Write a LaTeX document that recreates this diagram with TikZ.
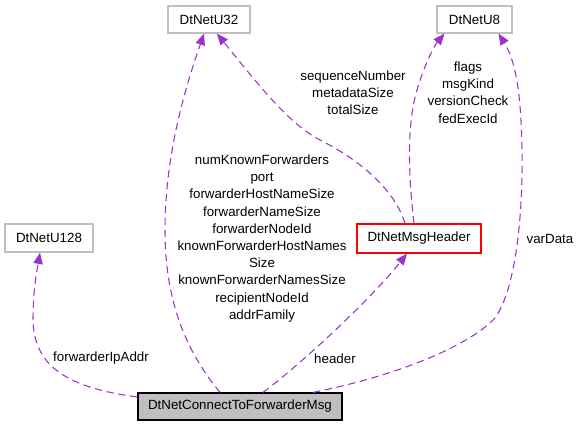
\documentclass[tikz,border=0pt]{standalone}
\usepackage{fontspec}
\setmainfont{Liberation Sans}
\usetikzlibrary{arrows.meta,calc}
\definecolor{edgepurple}{HTML}{9A32CD}
\definecolor{boxgray}{HTML}{BFBFBF}
\tikzset{
  cls/.style={draw=boxgray, line width=0.9pt, fill=white, inner sep=0pt, font=\fontsize{10pt}{12pt}\selectfont},
  mainbox/.style={cls, draw=black, fill=boxgray},
  hdrbox/.style={cls, draw=red},
  rel/.style={draw=edgepurple, line width=0.8pt, dash pattern=on 5.5pt off 3.5pt,
    -{Triangle[length=8.5pt,width=7pt]}},
  lbl/.style={align=center, inner sep=0pt, font=\fontsize{10pt}{12.9pt}\selectfont}
}
\begin{document}
\begin{tikzpicture}[x=0.75pt,y=-0.75pt]
\useasboundingbox (0,0) rectangle (580,427);
% nodes
\node[cls, minimum width=61.5pt, minimum height=20.25pt] (u32) at (209,19.5) {DtNetU32};
\node[cls, minimum width=56.25pt, minimum height=20.25pt] (u8) at (474.5,19.5) {DtNetU8};
\node[cls, minimum width=66pt, minimum height=21pt] (u128) at (49,238) {DtNetU128};
\node[hdrbox, minimum width=93pt, minimum height=21.75pt] (hdr) at (419,238.5) {DtNetMsgHeader};
\node[mainbox, minimum width=153pt, minimum height=20.25pt] (main) at (240,406.5) {DtNetConnectToForwarderMsg};
% edges
\draw[rel] ($(main.west)+(0,-9.5)$) .. controls (70,388) and (34,368) .. (33,320)
  .. controls (33,290) and (37,270) .. ($(u128.south)+(-9,0)$);
\draw[rel] ($(main.north)+(-20,0)$) .. controls (185,350) and (165,300) .. (165,230)
  .. controls (165,150) and (188,80) .. ($(u32.south)+(-5,0)$);
\draw[rel] ($(hdr.north)+(-14,0)$) .. controls (395,190) and (360,160) .. (320,140)
  .. controls (290,124) and (264,92) .. ($(u32.south)+(8,0)$);
\draw[rel] ($(hdr.north)+(-5,0)$) .. controls (410,190) and (405,130) .. (417,90)
  .. controls (424,66) and (434,46) .. ($(u8.south)+(-30,0)$);
\draw[rel] ($(main.north)+(73,0)$) .. controls (400,375) and (470,345) .. (495,318)
  .. controls (515,290) and (523,220) .. (522,150)
  .. controls (521,90) and (515,60) .. ($(u8.south)+(24,0)$);
\draw[rel] ($(main.north)+(23,0)$) .. controls (300,365) and (370,300) .. ($(hdr.south)+(-12,0)$);
% labels
\node[lbl] (l128) at (101,358) {forwarderIpAddr};
\node[lbl] (l32) at (262,238.5) {numKnownForwarders\\port\\forwarderHostNameSize\\forwarderNameSize\\forwarderNodeId\\knownForwarderHostNames\\Size\\knownForwarderNamesSize\\recipientNodeId\\addrFamily};
\node[lbl] (lseq) at (353,93) {sequenceNumber\\metadataSize\\totalSize};
\node[lbl] (lflags) at (468,92.5) {flags\\msgKind\\versionCheck\\fedExecId};
\node[lbl] (lvar) at (550,238.5) {varData};
\node[lbl] (lhdr) at (335,358.5) {header};
\end{tikzpicture}
\end{document}
